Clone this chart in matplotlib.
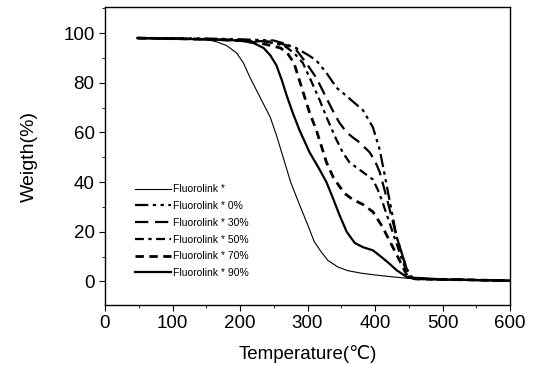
import matplotlib
matplotlib.use("Agg")
import matplotlib.pyplot as plt
from matplotlib.ticker import MultipleLocator

plt.rcParams['font.family'] = ['Liberation Sans', 'DejaVu Sans']

# Data
t_neat = [48, 150, 165, 180, 195, 205, 215, 230, 245, 255, 265, 275, 288, 300, 310, 320, 330, 345, 360, 380, 400, 420, 450, 500, 600]
w_neat = [98, 97.5, 96.5, 95, 92, 88, 82, 74, 66, 58, 49, 40, 31, 23, 16, 12, 8.5, 5.8, 4.3, 3.3, 2.6, 2, 1.2, 0.6, 0.3]

t_0 = [48, 150, 200, 250, 263, 283, 302, 313, 328, 343, 352, 367, 382, 397, 407, 415, 422, 432, 447, 455, 500, 600]
w_0 = [98, 97.8, 97.5, 97, 96, 94, 91, 89, 84, 78, 76, 72.5, 69, 62, 53, 42, 32, 18, 5, 1.5, 0.8, 0.3]

t_30 = [48, 150, 200, 250, 270, 284, 298, 313, 325, 337, 347, 358, 367, 377, 392, 400, 407, 417, 432, 447, 455, 500, 600]
w_30 = [98, 97.5, 97.2, 96.5, 95, 93, 88, 82, 75.5, 69, 64, 60, 58, 56, 52, 48.5, 44, 34, 18, 5, 1.5, 0.8, 0.3]

t_50 = [48, 150, 200, 240, 265, 280, 293, 305, 318, 330, 343, 352, 362, 372, 382, 397, 404, 411, 426, 441, 450, 460, 500, 600]
w_50 = [98, 97.5, 97, 96.5, 95, 92, 88, 81, 73, 65, 57, 52, 48, 46, 44, 41, 37, 32, 20, 8, 2, 1, 0.8, 0.3]

t_70 = [48, 150, 200, 230, 260, 270, 280, 288, 296, 303, 313, 320, 328, 338, 348, 357, 367, 382, 397, 404, 411, 426, 441, 448, 460, 500, 600]
w_70 = [98, 97.5, 97, 96, 94, 92, 88, 81, 74, 68, 61, 55, 48, 42, 38, 35, 33, 31, 28, 25, 22, 14, 6, 2, 1, 0.8, 0.3]

t_90 = [48, 150, 200, 220, 235, 245, 254, 262, 269, 278, 288, 303, 318, 328, 337, 347, 358, 370, 382, 397, 411, 422, 432, 447, 460, 500, 600]
w_90 = [98, 97.5, 97, 96, 94, 91, 87, 81, 75, 68, 61, 52, 45, 40, 34, 27, 20, 15.5, 13.8, 12.5, 9.5, 7, 4.5, 1.8, 1, 0.8, 0.3]

labels = ["Fluorolink *", "Fluorolink * 0%", "Fluorolink * 30%",
          "Fluorolink * 50%", "Fluorolink * 70%", "Fluorolink * 90%"]

fig = plt.figure(figsize=(5.36, 3.65), dpi=100)
ax = fig.add_axes([105/536, 1-305/365, (510-105)/536, (305-7)/365])

ax.plot(t_neat, w_neat, color='black', lw=0.8, ls='-', label=labels[0])
ax.plot(t_0, w_0, color='black', lw=1.6, ls=(0, (6, 2, 1.5, 2, 1.5, 2)), label=labels[1])
ax.plot(t_30, w_30, color='black', lw=1.6, ls=(0, (6, 3)), label=labels[2])
ax.plot(t_50, w_50, color='black', lw=1.6, ls=(0, (4, 2, 1.5, 2)), label=labels[3])
ax.plot(t_70, w_70, color='black', lw=2.0, ls=(0, (3, 2)), label=labels[4])
ax.plot(t_90, w_90, color='black', lw=1.6, ls='-', label=labels[5])

ax.set_xlim(0, 600)
ax.set_ylim(-9.5, 110.5)
ax.xaxis.set_major_locator(MultipleLocator(100))
ax.xaxis.set_minor_locator(MultipleLocator(50))
ax.yaxis.set_major_locator(MultipleLocator(20))
ax.yaxis.set_minor_locator(MultipleLocator(10))
ax.tick_params(which='both', direction='out', labelsize=13.5)
ax.tick_params(which='major', length=4)
ax.tick_params(which='minor', length=2.5)
for s in ax.spines.values():
    s.set_linewidth(1.0)

ax.set_xlabel("Temperature(℃)", fontsize=13.5, labelpad=9)
ax.set_ylabel("Weigth(%)", fontsize=14, labelpad=18)

leg = ax.legend(loc='upper left', bbox_to_anchor=(130/536, 1-179/365),
                bbox_transform=fig.transFigure, frameon=False, fontsize=7.5,
                handlelength=3.4, handletextpad=0.2, labelspacing=0.65, borderpad=0)

fig.savefig("out.png", dpi=100)
